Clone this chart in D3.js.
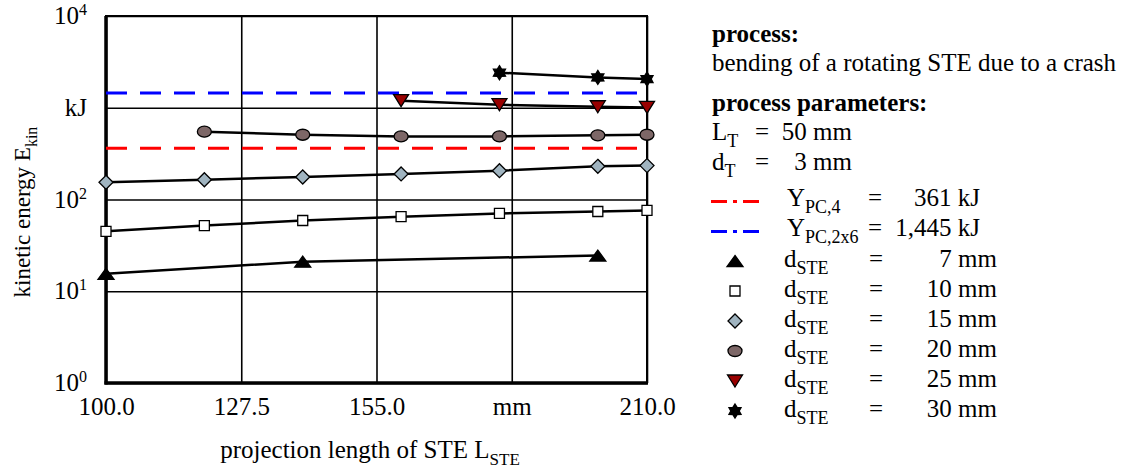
<!DOCTYPE html>
<html lang="en">
<head>
<meta charset="UTF-8">
<title>Kinetic energy vs projection length of STE</title>
<script src="https://d3js.org/d3.v7.min.js"></script>
<style>
  body { margin: 0; background: #fff; }
  svg, svg text { font-family: "Liberation Serif", "Times New Roman", serif; }
</style>
</head>
<body>
<script>
// projection lengths (mm) where each diameter was measured
const lenA = [100, 140, 200];
const lenB = [100, 120, 140, 160, 180, 200, 210];
const lenC = [120, 140, 160, 180, 200, 210];
const lenD = [160, 180, 200, 210];
const lenE = [180, 200, 210];

// kinetic energy (kJ) per STE diameter
const ekin7  = [15.5, 21, 24.5];
const ekin10 = [45, 52, 59, 65, 70.5, 74, 76];
const ekin15 = [154, 164, 176, 190, 206, 230, 234];
const ekin20 = [548, 508, 487, 487, 500, 508];
const ekin25 = [1194, 1079, 1026, 1009];
const ekin30 = [2410, 2142, 2055];

const diameters = [7, 10, 15, 20, 25, 30];

// reference levels
const refNames = ["PC,4", "PC,2x6"];
const refValues = [361, 1445];
const refLabels = ["361 kJ", "1,445 kJ"];
const refColors = ["#ff0000", "#0000ff"];
const refSpan = [100, 208];

const xTicks = [100, 127.5, 155, 182.5, 210];
const xTickLabels = ["100.0", "127.5", "155.0", "mm", "210.0"];
const yTicks = [1, 10, 100, 1000, 10000];
const yTickLabels = ["10^0", "10^1", "10^2", "kJ", "10^4"];

const FS = 25;

// marker shapes
function triType(w, h, down) {
    return { draw(ctx) {
        const s = down ? -1 : 1;
        ctx.moveTo(0, -s * h / 2);
        ctx.lineTo(w / 2, s * h / 2);
        ctx.lineTo(-w / 2, s * h / 2);
        ctx.closePath();
    } };
}
function rectType(w, h) {
    return { draw(ctx) { ctx.rect(-w / 2, -h / 2, w, h); } };
}
function diamondType(w, h) {
    return { draw(ctx) {
        ctx.moveTo(0, -h / 2); ctx.lineTo(w / 2, 0);
        ctx.lineTo(0, h / 2); ctx.lineTo(-w / 2, 0); ctx.closePath();
    } };
}
function ellipseType(rx, ry) {
    return { draw(ctx) {
        const k = 0.5523;
        ctx.moveTo(rx, 0);
        ctx.bezierCurveTo(rx, ry * k, rx * k, ry, 0, ry);
        ctx.bezierCurveTo(-rx * k, ry, -rx, ry * k, -rx, 0);
        ctx.bezierCurveTo(-rx, -ry * k, -rx * k, -ry, 0, -ry);
        ctx.bezierCurveTo(rx * k, -ry, rx, -ry * k, rx, 0);
        ctx.closePath();
    } };
}
function hexagramType(r) {
    return { draw(ctx) {
        for (let i = 0; i < 12; i++) {
            const a = Math.PI / 6 * i - Math.PI / 2;
            const rr = i % 2 ? r * 0.6 : r;
            const px = rr * Math.cos(a), py = rr * Math.sin(a);
            if (i) ctx.lineTo(px, py); else ctx.moveTo(px, py);
        }
        ctx.closePath();
    } };
}

const series = [
    { xs: lenA, ys: ekin7,  type: triType(16, 11, false), fill: "#000000" },
    { xs: lenB, ys: ekin10, type: rectType(10, 10),       fill: "#ffffff" },
    { xs: lenB, ys: ekin15, type: diamondType(14, 14),    fill: "#a0b4c0" },
    { xs: lenC, ys: ekin20, type: ellipseType(7, 5.5),    fill: "#7d6767" },
    { xs: lenD, ys: ekin25, type: triType(15, 12, true),  fill: "#990000" },
    { xs: lenE, ys: ekin30, type: hexagramType(7),        fill: "#000000" }
];

const margin = { top: 16, left: 106 };
const width = 541;
const height = 367;

const svg = d3.select('body').append('svg')
    .attr('width', 1121)
    .attr('height', 468);

const g = svg.append('g')
    .attr('transform', 'translate(' + margin.left + ',' + margin.top + ')');

const x = d3.scaleLinear().domain([100, 210]).range([0, width]);
const y = d3.scaleLog().domain([1, 10000]).range([height, 0]);

// rich text helper: parts are [text, 'sub' | 'sup' | undefined]
function rich(sel, parts, subSize) {
    parts.forEach(p => {
        const t = sel.append('tspan').text(p[0]);
        if (p[1] === 'sub') {
            t.style('font-size', subSize + 'px').attr('dy', 6.5);
        } else if (p[1] === 'sup') {
            t.style('font-size', subSize + 'px').attr('dy', -9);
        }
    });
}

// y axis with horizontal grid
const yAxis = g.append('g')
    .call(d3.axisLeft(y).tickValues(yTicks).tickSize(-width).tickPadding(19).tickFormat(''))
    .attr('font-family', null).attr('font-size', null);
yAxis.select('.domain').remove();
yAxis.selectAll('.tick line').attr('stroke', '#000').attr('stroke-width', 1.6);
yAxis.selectAll('.tick text')
    .style('font-size', FS + 'px')
    .attr('fill', '#000')
    .attr('dy', '0.3em')
    .each(function (d, i) {
        const parts = yTickLabels[i].split('^');
        const t = d3.select(this);
        if (parts.length === 2) rich(t, [[parts[0]], [parts[1], 'sup']], 16);
        else t.text(parts[0]);
    });

// x axis with vertical grid
const xAxis = g.append('g')
    .attr('transform', 'translate(0,' + height + ')')
    .call(d3.axisBottom(x).tickValues(xTicks).tickSize(-height).tickPadding(14)
        .tickFormat((d, i) => xTickLabels[i]))
    .attr('font-family', null).attr('font-size', null);
xAxis.select('.domain').remove();
xAxis.selectAll('.tick line').attr('stroke', '#000').attr('stroke-width', 1.6);
xAxis.selectAll('.tick text').style('font-size', FS + 'px').attr('fill', '#000');

// frame: thin top/right, heavy left/bottom
g.append('rect')
    .attr('width', width).attr('height', height)
    .attr('fill', 'none').attr('stroke', '#000').attr('stroke-width', 2);
g.append('line')
    .attr('x1', x(100)).attr('x2', x(100)).attr('y1', 0).attr('y2', height + 1.5)
    .attr('stroke', '#000').attr('stroke-width', 3.5);
g.append('line')
    .attr('x1', x(100) - 1.5).attr('x2', x(210) + 1).attr('y1', y(1)).attr('y2', y(1))
    .attr('stroke', '#000').attr('stroke-width', 3.5);

// reference levels
refValues.forEach((v, i) => {
    g.append('line')
        .attr('x1', x(refSpan[0])).attr('x2', x(refSpan[1]))
        .attr('y1', y(v)).attr('y2', y(v))
        .attr('stroke', refColors[i]).attr('stroke-width', 3)
        .attr('stroke-dasharray', '21,13');
});

// series lines and markers
const line = d3.line().x(d => x(d[0])).y(d => y(d[1]));
series.forEach(s => {
    const pts = s.xs.map((v, i) => [v, s.ys[i]]);
    g.append('path')
        .datum(pts)
        .attr('d', line)
        .attr('fill', 'none')
        .attr('stroke', '#000')
        .attr('stroke-width', 2.5);
});
series.forEach(s => {
    const pts = s.xs.map((v, i) => [v, s.ys[i]]);
    g.selectAll(null)
        .data(pts)
        .enter()
        .append('path')
        .attr('transform', d => 'translate(' + x(d[0]) + ',' + y(d[1]) + ')')
        .attr('d', d3.symbol().type(s.type)())
        .attr('fill', s.fill)
        .attr('stroke', '#000')
        .attr('stroke-width', 1.3);
});

// axis titles
rich(svg.append('text')
    .attr('x', 370).attr('y', 458)
    .attr('text-anchor', 'middle')
    .style('font-size', FS + 'px'),
    [['projection length of STE L'], ['STE', 'sub']], 17);

rich(svg.append('text')
    .attr('transform', 'translate(30,212) rotate(-90)')
    .attr('text-anchor', 'middle')
    .style('font-size', '23px'),
    [['kinetic energy E'], ['kin', 'sub']], 16);

// legend / annotation block
const lx = 712;
svg.append('text').attr('x', lx).attr('y', 42)
    .style('font-size', FS + 'px').style('font-weight', 'bold').text('process:');
svg.append('text').attr('x', lx).attr('y', 71)
    .style('font-size', FS + 'px').text('bending of a rotating STE due to a crash');
svg.append('text').attr('x', lx).attr('y', 111)
    .style('font-size', FS + 'px').style('font-weight', 'bold').text('process parameters:');

const params = [['L', 'T', '50 mm', 140], ['d', 'T', '3 mm', 170]];
params.forEach(p => {
    rich(svg.append('text').attr('x', lx).attr('y', p[3]).style('font-size', FS + 'px'),
        [[p[0]], [p[1], 'sub']], 18);
    svg.append('text').attr('x', 762).attr('y', p[3]).attr('text-anchor', 'middle')
        .style('font-size', FS + 'px').text('=');
    svg.append('text').attr('x', 852).attr('y', p[3]).attr('text-anchor', 'end')
        .style('font-size', FS + 'px').text(p[2]);
});

refNames.forEach((n, i) => {
    const ty = 206 + i * 30;
    svg.append('line')
        .attr('x1', 711).attr('x2', 759)
        .attr('y1', ty - 4.5).attr('y2', ty - 4.5)
        .attr('stroke', refColors[i]).attr('stroke-width', 3)
        .attr('stroke-dasharray', '16,6,4,6,16');
    rich(svg.append('text').attr('x', 787).attr('y', ty).style('font-size', FS + 'px'),
        [['Y'], [n, 'sub']], 18);
    svg.append('text').attr('x', 875).attr('y', ty).attr('text-anchor', 'middle')
        .style('font-size', FS + 'px').text('=');
    svg.append('text').attr('x', 980).attr('y', ty).attr('text-anchor', 'end')
        .style('font-size', FS + 'px').text(refLabels[i]);
});

diameters.forEach((dm, i) => {
    const ty = 267 + i * 30;
    const s = series[i];
    svg.append('path')
        .attr('transform', 'translate(735,' + (ty - 6) + ')')
        .attr('d', d3.symbol().type(s.type)())
        .attr('fill', s.fill)
        .attr('stroke', '#000')
        .attr('stroke-width', 1.3);
    rich(svg.append('text').attr('x', 784).attr('y', ty).style('font-size', FS + 'px'),
        [['d'], ['STE', 'sub']], 18);
    svg.append('text').attr('x', 876).attr('y', ty).attr('text-anchor', 'middle')
        .style('font-size', FS + 'px').text('=');
    svg.append('text').attr('x', 997).attr('y', ty).attr('text-anchor', 'end')
        .style('font-size', FS + 'px').text(dm + ' mm');
});
</script>
</body>
</html>
